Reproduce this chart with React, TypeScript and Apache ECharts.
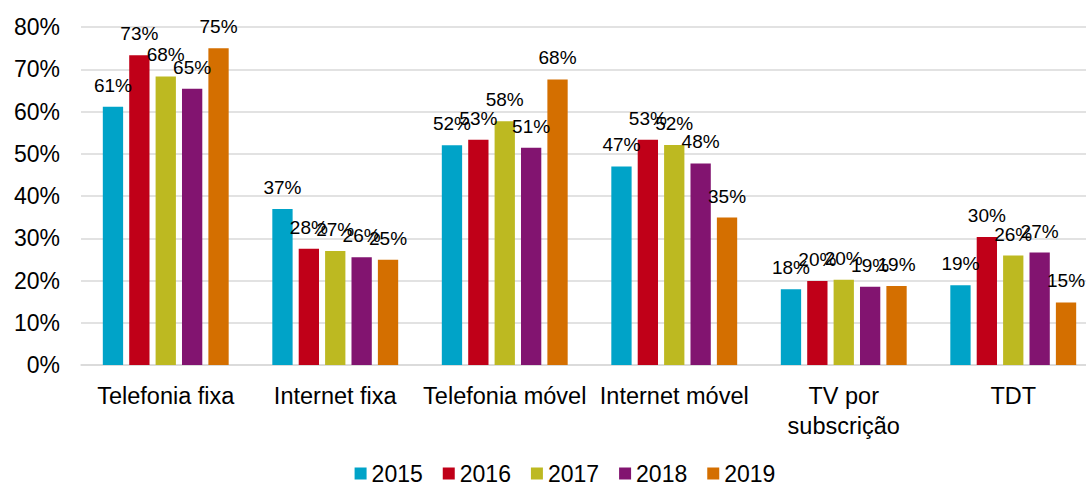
import React, { useEffect, useRef } from "react";
import * as echarts from "echarts";

const categories = [
  "Telefonia fixa",
  "Internet fixa",
  "Telefonia móvel",
  "Internet móvel",
  "TV por\nsubscrição",
  "TDT",
];
const years = ["2015", "2016", "2017", "2018", "2019"];
const values2015 = [61.1, 36.9, 52.0, 47.0, 17.9, 18.9];
const values2016 = [73.3, 27.5, 53.3, 53.3, 19.9, 30.3];
const values2017 = [68.3, 27.0, 57.7, 52.1, 20.2, 25.9];
const values2018 = [65.4, 25.5, 51.4, 47.7, 18.5, 26.6];
const values2019 = [75.0, 24.9, 67.6, 34.9, 18.7, 14.8];
const yTicks = [0, 10, 20, 30, 40, 50, 60, 70, 80];
const colors = ["#00A3C8", "#C00018", "#BDB921", "#821470", "#D46F00"];

const allValues = [values2015, values2016, values2017, values2018, values2019];
const FONT = "'Liberation Sans', Arial, sans-serif";

export default function App() {
  const ref = useRef<HTMLDivElement>(null);
  useEffect(() => {
    if (!ref.current) return;
    const chart = echarts.init(ref.current, null, { renderer: "svg" });
    chart.setOption({
      animation: false,
      textStyle: { fontFamily: FONT },
      grid: { left: 81, right: 32, top: 27, bottom: 118 },
      legend: {
        data: years,
        top: 462,
        left: "center",
        padding: 0,
        icon: "rect",
        itemWidth: 12,
        itemHeight: 12,
        itemGap: 20,
        textStyle: { fontSize: 23, lineHeight: 20, color: "#000", fontFamily: FONT },
      },
      xAxis: {
        type: "category",
        data: categories,
        axisLine: { lineStyle: { color: "#d9d9d9", width: 1.5 } },
        axisTick: { show: false },
        axisLabel: {
          fontSize: 23.5,
          color: "#000",
          fontFamily: FONT,
          margin: 16,
          lineHeight: 30,
          interval: 0,
        },
      },
      yAxis: {
        type: "value",
        min: yTicks[0],
        max: yTicks[yTicks.length - 1],
        interval: yTicks[1] - yTicks[0],
        axisLine: { show: false },
        axisTick: { show: false },
        splitLine: { lineStyle: { color: "#d9d9d9", width: 1.5 } },
        axisLabel: {
          formatter: "{value}%",
          fontSize: 23,
          color: "#000",
          fontFamily: FONT,
          margin: 21,
        },
      },
      series: years.map((y, i) => ({
        name: y,
        type: "bar",
        data: allValues[i],
        barWidth: 20.3,
        barGap: "30%",
        itemStyle: { color: colors[i] },
        label: {
          show: true,
          position: "top",
          distance: 12,
          fontSize: 19,
          lineHeight: 19,
          color: "#000",
          fontFamily: FONT,
          formatter: (p: any) => Math.round(p.value) + "%",
        },
      })),
    });
    return () => chart.dispose();
  }, []);
  return (
    <div
      style={{
        position: "fixed",
        left: 0,
        top: 0,
        width: 1086,
        height: 483,
        overflow: "hidden",
        background: "#fff",
      }}
    >
      <div ref={ref} style={{ width: 1130, height: 483 }} />
    </div>
  );
}
